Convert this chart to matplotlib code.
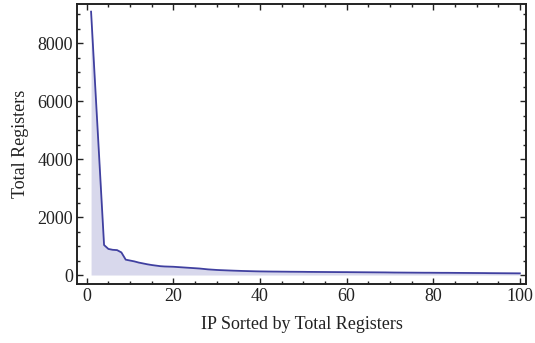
import numpy as np
import matplotlib.pyplot as plt
from matplotlib.ticker import MultipleLocator

# registers per IP, sorted descending
ranks = list(range(1, 101))
registers = [
    9090, 6400, 3720, 1035, 900, 870, 860, 780, 530, 500,
    470, 430, 400, 370, 345, 325, 305, 295, 290, 285,
    275, 265, 255, 245, 235, 225, 210, 195, 185, 175,
    168, 162, 156, 150, 145, 140, 136, 132, 128, 125,
    123, 121, 119, 118, 116, 115, 113, 112, 111, 110,
    108, 107, 106, 105, 104, 103, 102, 101, 100, 100,
    98, 97, 96, 95, 94, 93, 92, 91, 90, 88,
    86, 85, 84, 83, 82, 81, 80, 79, 79, 78,
    77, 76, 76, 75, 74, 73, 72, 71, 70, 69,
    68, 67, 65, 64, 63, 62, 61, 60, 59, 58,
]

line_color = '#4040a0'

plt.rcParams['font.family'] = ['Liberation Serif', 'DejaVu Serif']
fig = plt.figure(figsize=(5.35, 3.43), dpi=100)
ax = fig.add_axes([0.144, 0.172, 0.839, 0.816])

ax.fill_between(ranks, registers, 0, color=line_color, alpha=0.2, linewidth=0)
ax.plot(ranks, registers, color=line_color, linewidth=1.3)

ax.set_xlim(-2.24, 101.4)
ax.set_ylim(-310, 9350)

ax.xaxis.set_major_locator(MultipleLocator(20))
ax.xaxis.set_minor_locator(MultipleLocator(5))
ax.yaxis.set_major_locator(MultipleLocator(2000))
ax.yaxis.set_minor_locator(MultipleLocator(500))

ax.tick_params(which='both', direction='in', top=True, right=True,
               labelsize=13, colors='#222222', pad=3, width=1)
ax.tick_params(which='major', length=4)
ax.tick_params(which='minor', length=2)
for s in ax.spines.values():
    s.set_linewidth(1.4)
    s.set_color('#222222')

ax.set_xlabel('IP Sorted by Total Registers', fontsize=13, color='#222222', labelpad=8)
ax.set_ylabel('Total Registers', fontsize=13, color='#222222', labelpad=6)

fig.savefig('out.png', dpi=100)
